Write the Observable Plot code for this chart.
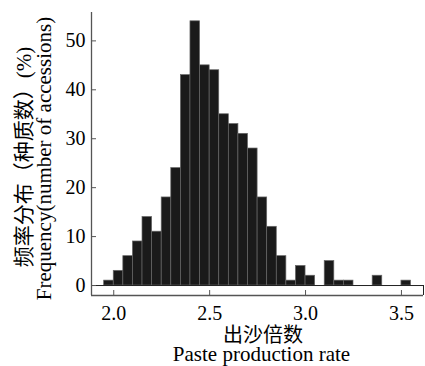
<!DOCTYPE html>
<html>
<head>
<meta charset="utf-8">
<script src="https://cdn.jsdelivr.net/npm/d3@7"></script>
<script src="https://cdn.jsdelivr.net/npm/@observablehq/plot@0.6"></script>
<style>
  html, body { margin: 0; padding: 0; background: #fff; }
</style>
</head>
<body>
<div id="chart"></div>
<script>
// Bin starts (paste production rate), bin width 0.05
const binStarts = [1.95, 2.00, 2.05, 2.10, 2.15, 2.20, 2.25, 2.30, 2.35, 2.40, 2.45, 2.50, 2.55, 2.60, 2.65, 2.70,
                   2.75, 2.80, 2.85, 2.90, 2.95, 3.00, 3.05, 3.10, 3.15, 3.20, 3.25, 3.30, 3.35, 3.40, 3.45, 3.50];
const binWidth = 0.05;
// Frequency (number of accessions)
const counts = [1, 3, 6, 9, 14, 11, 18, 24, 43, 54, 45, 44, 35, 33, 31, 28,
                18, 12, 6, 1, 4, 2, 0, 5, 1, 1, 0, 0, 2, 0, 0, 1];
const xTicks = [2.0, 2.5, 3.0, 3.5];
const xTickLabels = ["2.0", "2.5", "3.0", "3.5"];
const yTicks = [0, 10, 20, 30, 40, 50];
const xDomain = [1.884, 3.615];
const yDomain = [-2.04, 55.8];

const xTitleZh = "出沙倍数";
const xTitleEn = "Paste production rate";
const yTitleZh = "频率分布（种质数）(%)";
const yTitleEn = "Frequency(number of accessions)";

const bins = binStarts.map((s, i) => ({x1: s, x2: s + binWidth, y: counts[i]})).filter(d => d.y > 0);

const axisColor = "#555";
const titleOpts = {text: d => d, fill: "#000", textAnchor: "middle", lineAnchor: "middle"};

const chart = Plot.plot({
  width: 425,
  height: 366,
  marginLeft: 91,
  marginRight: 2,
  marginTop: 12,
  marginBottom: 71,
  style: {fontFamily: "'Liberation Serif', 'Noto Sans CJK SC', serif", fontSize: "20px", color: "#000", background: "#fff"},
  x: {domain: xDomain},
  y: {domain: yDomain},
  marks: [
    Plot.rectY(bins, {x1: "x1", x2: "x2", y: "y", fill: "#1a1a1a", stroke: "#666", strokeWidth: 0.7}),
    Plot.ruleY([0], {stroke: "#222", strokeWidth: 1}),
    Plot.ruleX([xDomain[1]], {y1: yDomain[0], y2: 0, stroke: "#222", strokeWidth: 1}),
    Plot.ruleX([xDomain[0]], {stroke: axisColor, strokeWidth: 1.3}),
    Plot.ruleY([yDomain[0]], {stroke: axisColor, strokeWidth: 1.3}),
    Plot.axisY({ticks: yTicks, tickSize: -5, tickPadding: 11, stroke: axisColor, fontSize: 20, fill: "#000", label: null}),
    Plot.axisX({ticks: xTicks, tickFormat: (d, i) => xTickLabels[i], tickSize: -5, tickPadding: 15, stroke: axisColor, fontSize: 20, fill: "#000", label: null}),
    Plot.text([xTitleZh], {...titleOpts, fontSize: 20, frameAnchor: "bottom", dx: 5.5, dy: 40.5}),
    Plot.text([xTitleEn], {...titleOpts, fontSize: 21, frameAnchor: "bottom", dx: 4, dy: 59}),
    Plot.text([yTitleZh], {...titleOpts, fontSize: 21, frameAnchor: "left", rotate: -90, dx: -67.6, dy: 3}),
    Plot.text([yTitleEn], {...titleOpts, fontSize: 21, frameAnchor: "left", rotate: -90, dx: -47.6, dy: 4.5})
  ]
});
document.getElementById("chart").appendChild(chart);
</script>
</body>
</html>
